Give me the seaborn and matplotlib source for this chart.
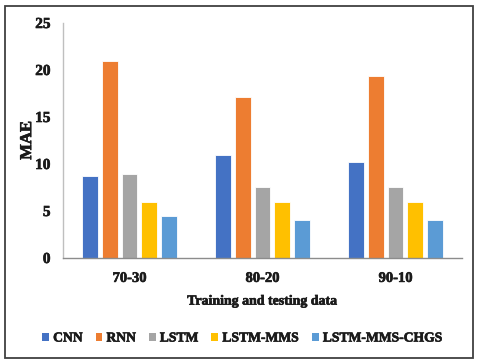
import matplotlib
matplotlib.use("Agg")
import matplotlib.pyplot as plt
import matplotlib.patheffects as pe
import seaborn as sns
import pandas as pd
from matplotlib.patches import Rectangle

groups = ["70-30", "80-20", "90-10"]
models = ["CNN", "RNN", "LSTM", "LSTM-MMS", "LSTM-MMS-CHGS"]
cnn = [8.7, 11.0, 10.2]
rnn = [21.0, 17.1, 19.4]
lstm = [8.9, 7.6, 7.6]
lstm_mms = [6.0, 6.0, 6.0]
lstm_mms_chgs = [4.5, 4.0, 4.0]
colors = ["#4472C4", "#ED7D31", "#A5A5A5", "#FFC000", "#5B9BD5"]
yticks = [0, 5, 10, 15, 20, 25]

rows = []
for m, vals in zip(models, [cnn, rnn, lstm, lstm_mms, lstm_mms_chgs]):
    for g, v in zip(groups, vals):
        rows.append({"group": g, "model": m, "value": v})
df = pd.DataFrame(rows)

sns.set_theme(style="white")
plt.rcParams["font.family"] = ["Liberation Serif", "DejaVu Serif"]
plt.rcParams["font.weight"] = "bold"
plt.rcParams["text.color"] = "#1a1a1a"

stroke = [pe.withStroke(linewidth=0.45, foreground="#1a1a1a")]

fig = plt.figure(figsize=(4.8, 3.64), dpi=100)
ax = fig.add_axes([63/480, 1-258/364, 399/480, 235/364])

sns.barplot(data=df, x="group", y="value", hue="model", hue_order=models,
            order=groups, palette=colors, width=0.75, gap=0.2, ax=ax,
            edgecolor="white", linewidth=0.6, saturation=1, legend=False)

ax.set_xlim(-0.5, 2.5)
ax.set_ylim(0, 25)
ax.set_yticks(yticks)
ax.set_yticklabels([str(t) for t in yticks], fontsize=11, fontweight="bold", color="#1a1a1a")
ax.set_xticks(range(len(groups)))
ax.set_xticklabels(groups, fontsize=10.5, fontweight="bold", color="#1a1a1a")
for t in ax.get_xticklabels() + ax.get_yticklabels():
    t.set_path_effects(stroke)
ax.tick_params(axis="both", length=0)
ax.tick_params(axis="y", pad=9)
ax.tick_params(axis="x", pad=10)
xl = ax.set_xlabel("Training and testing data", fontsize=10, fontweight="bold", labelpad=7, color="#1a1a1a")
yl = ax.set_ylabel("MAE", fontsize=12, fontweight="bold", labelpad=0, color="#1a1a1a")
xl.set_path_effects(stroke)
yl.set_path_effects(stroke)
for s in ["top", "right"]:
    ax.spines[s].set_visible(False)
ax.spines["left"].set_color("#BFBFBF")
ax.spines["left"].set_linewidth(1.0)
ax.spines["bottom"].set_color("#8C8C8C")
ax.spines["bottom"].set_linewidth(1.0)

handles = [Rectangle((0, 0), 1, 1, facecolor=c, edgecolor="none") for c in colors]
leg = fig.legend(handles, models, loc="center", bbox_to_anchor=(0.505, 1-338/364), ncol=5,
                 frameon=False, handlelength=0.5, handleheight=0.5, handletextpad=0.3,
                 columnspacing=0.95, prop={"size": 9.8, "weight": "bold"})
for t in leg.get_texts():
    t.set_path_effects(stroke)

fig.patches.append(Rectangle((5/480, 1-358/364), 468/480, 352/364, transform=fig.transFigure,
                             fill=False, edgecolor="#404040", linewidth=1.3))

fig.savefig("out.png", dpi=100)
